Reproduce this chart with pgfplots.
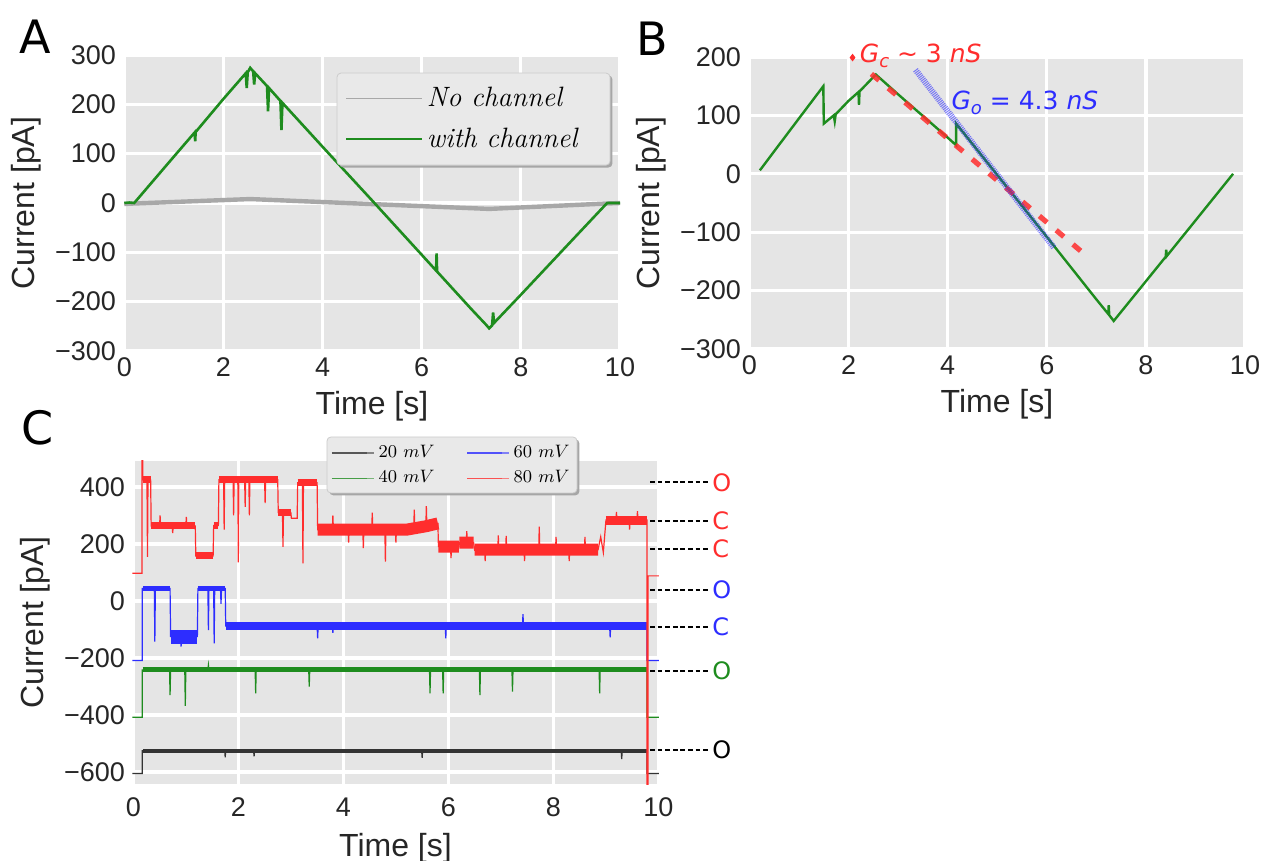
\documentclass[border=0pt]{standalone}
\usepackage{fontspec}
\usepackage{pgfplots}
\pgfplotsset{compat=1.18}
\newfontfamily\lib{Liberation Sans}
\newfontfamily\dejavu{DejaVu Sans}
\definecolor{bgc}{HTML}{E5E5E5}
\definecolor{legfill}{HTML}{E9E9E9}
\definecolor{trgreen}{RGB}{30,140,30}
\definecolor{trred}{RGB}{255,45,45}
\definecolor{trblue}{RGB}{45,45,255}
\definecolor{trgray}{HTML}{A8A8A8}
\definecolor{trblack}{HTML}{333333}

\pgfplotsset{
  panel/.style={
    scale only axis,
    axis background/.style={fill=bgc},
    axis line style={draw=none},
    major tick length=0pt,
    tick style={draw=none},
    grid=major,
    grid style={white, line width=1.6pt},
    tick label style={font=\lib\fontsize{13.5}{16}\selectfont, text=black!85},
    label style={font=\lib\fontsize{16}{19}\selectfont, text=black!85},
    xtick={0,2,4,6,8,10},
    xticklabels={0,2,4,6,8,10},
    xlabel={Time [s]},
    ylabel={Current [pA]},
    clip mode=individual,
  },
}
% legend box with its shadow, drawn from two corners in rel axis cs
\newcommand\legbox[4]{%
  \fill[black!35, rounded corners=2pt]
    ([xshift=1.2pt,yshift=-1.2pt]rel axis cs:#1,#2) rectangle ([xshift=1.2pt,yshift=-1.2pt]rel axis cs:#3,#4);
  \filldraw[fill=legfill, draw=black!20, rounded corners=2pt]
    (rel axis cs:#1,#2) rectangle (rel axis cs:#3,#4);
}

\begin{document}
\begin{tikzpicture}
\path[use as bounding box] (0pt,0pt) rectangle (632.5pt,-430.5pt);

\node[font=\dejavu\fontsize{23}{27}\selectfont] at (17.5pt,-18.5pt) {A};
\node[font=\dejavu\fontsize{23}{27}\selectfont] at (326pt,-19.5pt) {B};
\node[font=\dejavu\fontsize{23}{27}\selectfont] at (19pt,-214pt) {C};

% ---------------- A
\begin{axis}[panel, at={(61.5pt,-175.5pt)}, anchor=south west,
  width=249pt, height=148pt,
  xmin=-0.026, xmax=10.02, ymin=-300, ymax=300,
  ytick={-300,-200,-100,0,100,200,300},
  yticklabels={−300,−200,−100,0,100,200,300},
  legend cell align=left,
  legend image code/.code={\draw[#1] (0pt,0pt) -- (29.5pt,0pt); \path (0pt,0pt) -- (38pt,0pt);},
  legend image post style={line width=0.8pt},
  legend style={draw=none, fill=none, at={(0.4297,0.939)}, anchor=north west,
    font=\fontsize{14}{17}\selectfont\itshape,
    inner xsep=4pt, inner ysep=5pt, row sep=5pt},
]
\addplot[trgray, line width=2.2pt] coordinates {
  (0,-2) (0.2,-1) (2.54,8) (7.36,-12) (9.74,-1) (10,0)
};
\addlegendentry{No channel}
\addplot[trgreen, line width=1.3pt] coordinates {
  (0,0) (0.1,1) (0.2,0) (0.6,47) (1.0,94) (1.42,143) (1.43,125) (1.44,144)
  (2.0,211) (2.45,263) (2.47,233) (2.49,265) (2.54,274) (2.6,267) (2.62,240)
  (2.64,263) (2.88,237) (2.90,186) (2.92,233) (3.15,207) (3.17,148) (3.19,203)
  (3.5,169) (4.0,114) (5.0,5) (6.0,-105) (6.29,-137) (6.30,-102) (6.31,-139)
  (7.0,-215) (7.3,-247) (7.36,-254) (7.42,-248) (7.44,-222) (7.46,-243)
  (8.0,-186) (9.0,-79) (9.74,0) (10,0)
};
\addlegendentry{with channel}
\legbox{0.4297}{0.939}{0.978}{0.628}
\end{axis}

% ---------------- B
\begin{axis}[panel, at={(374pt,-174.5pt)}, anchor=south west,
  width=249pt, height=146pt,
  xmin=-0.03, xmax=10.02, ymin=-300, ymax=200,
  ytick={-300,-200,-100,0,100,200},
  yticklabels={−300,−200,−100,0,100,200},
]
\addplot[trgreen, line width=1.2pt] coordinates {
  (0.21,6) (0.6,50) (1.0,95) (1.49,150) (1.5,86) (1.7,100) (1.72,90) (1.74,102)
  (2.0,125) (2.2,140) (2.21,118) (2.22,141) (2.55,170) (3.0,136) (3.5,99)
  (4.0,62) (4.17,49) (4.17,86) (5.0,-2) (6.0,-108) (7.0,-215) (7.24,-240)
  (7.25,-225) (7.26,-242) (7.35,-252) (8.0,-184) (8.4,-142) (8.41,-130)
  (8.42,-141) (9.0,-80) (9.76,0)
};
\addplot[trred, opacity=0.85, line width=2.6pt, dash pattern=on 5pt off 6pt]
  coordinates {(2.46,171) (6.78,-139)};
\addplot[trblue, opacity=0.6, line width=3pt, dash pattern=on 0.5pt off 0.5pt]
  coordinates {(3.35,178) (6.15,-127)};
\addplot[only marks, mark=diamond*, mark size=1.6pt, trred] coordinates {(2.08,199)};
\node[anchor=base west, text=trred, font=\dejavu\fontsize{12.5}{15}\selectfont, inner sep=0pt]
  at (axis cs:2.22,190) {\itshape G\raisebox{-0.35ex}{\fontsize{9}{10}\selectfont c}\upshape{} ∼ 3 \itshape nS};
\node[anchor=base west, text=trblue, font=\dejavu\fontsize{12.5}{15}\selectfont, inner sep=0pt]
  at (axis cs:4.07,110) {\itshape G\raisebox{-0.35ex}{\fontsize{9}{10}\selectfont o}\upshape{} = 4.3 \itshape nS};
\end{axis}

% ---------------- C
\begin{axis}[panel, at={(66pt,-392pt)}, anchor=south west,
  width=263.5pt, height=161.5pt,
  xmin=-0.025, xmax=10.01, ymin=-642, ymax=491,
  ytick={-600,-400,-200,0,200,400},
  yticklabels={−600,−400,−200,0,200,400},
  xticklabel style={yshift=-3.5pt},
  xlabel style={yshift=-1pt},
  unbounded coords=jump,
  legend columns=2, transpose legend,
  legend cell align=left,
  legend image code/.code={\draw[#1] (0pt,0pt) -- (17.5pt,0pt); \path (0pt,0pt) -- (21pt,0pt);},
  legend image post style={line width=0.6pt, opacity=0.55},
  legend style={draw=none, fill=none, at={(0.370,1.0743)}, anchor=north west,
    font=\fontsize{9}{11}\selectfont, inner xsep=2pt, inner ysep=2pt, row sep=1pt,
    /tikz/every even column/.append style={column sep=14pt}},
]
% 20 mV
\addplot[trblack, line width=0.6pt] coordinates {
  (-0.02,-605) (0.17,-605) (0.17,-525) (1.74,-525) (1.75,-548) (1.76,-525)
  (2.29,-525) (2.3,-545) (2.31,-525) (5.49,-525) (5.5,-550) (5.51,-525)
  (9.29,-525) (9.3,-555) (9.31,-525) (9.78,-525) (9.78,-605) (10.02,-605)
};
\addlegendentry{$20\ mV$}
\addplot[trblack, line width=2pt, forget plot] coordinates {(0.18,-525) (9.78,-525)};
% 40 mV
\addplot[trgreen, line width=0.6pt] coordinates {
  (-0.02,-408) (0.17,-408) (0.17,-242) (0.69,-242) (0.7,-330) (0.71,-242)
  (0.98,-242) (0.99,-368) (1.0,-242) (1.42,-242) (1.43,-225) (1.44,-242)
  (2.32,-242) (2.33,-324) (2.34,-242) (3.34,-242) (3.35,-300) (3.36,-242)
  (5.64,-242) (5.65,-324) (5.66,-242) (5.89,-242) (5.9,-324) (5.91,-242)
  (6.59,-242) (6.6,-330) (6.61,-242) (7.21,-242) (7.22,-318) (7.23,-242)
  (8.87,-242) (8.88,-324) (8.89,-242) (9.78,-242) (9.78,-408) (10.02,-408)
};
\addlegendentry{$40\ mV$}
\addplot[trgreen, line width=2.5pt, forget plot] coordinates {(0.18,-242) (9.78,-242)};
% 60 mV
\addplot[trblue, line width=0.6pt] coordinates {
  (-0.02,-209) (0.17,-209) (0.17,44) (0.4,44) (0.41,-143) (0.42,44) (0.7,44)
  (0.71,-125) (0.9,-125) (0.91,-160) (0.92,-125) (1.22,-125) (1.23,44)
  (1.42,44) (1.43,-102) (1.44,44) (1.53,44) (1.54,-149) (1.55,44) (1.66,44)
  (1.67,-10) (1.68,44) (1.75,44) (1.76,-88) (3.5,-88) (3.51,-131) (3.52,-88)
  (3.79,-88) (3.8,-112) (3.81,-88)
  (5.94,-88) (5.95,-131) (5.96,-88) (7.41,-88) (7.42,-46) (7.43,-88)
  (9.07,-88) (9.08,-128) (9.09,-88) (9.78,-88) (9.78,-209) (10.02,-209)
};
\addlegendentry{$60\ mV$}
\addplot[trblue, line width=2.5pt, forget plot] coordinates {
  (0.18,44) (0.7,44) (0.7,nan) (1.23,44) (1.75,44)
};
\addplot[trblue, line width=7pt, forget plot] coordinates {(0.71,-125) (1.22,-125)};
\addplot[trblue, line width=4pt, forget plot] coordinates {(1.76,-88) (9.78,-88)};
% 80 mV
\addplot[trred, line width=0.6pt] coordinates {
  (-0.02,97) (0.165,97) (0.165,700) (0.18,700) (0.18,425) (0.26,425)
  (0.27,155) (0.28,425) (0.33,425) (0.34,263) (0.5,263) (0.51,300) (0.52,263)
  (0.74,263) (0.75,238) (0.76,263)
  (1.0,263) (1.01,295) (1.02,263) (1.18,263) (1.19,158) (1.52,158) (1.53,265)
  (1.62,265) (1.63,425) (1.72,425) (1.73,250) (1.74,425) (1.9,425) (1.91,300)
  (1.92,425) (1.99,425) (2.0,135) (2.01,425) (2.12,425) (2.13,330) (2.14,425)
  (2.2,425) (2.21,300) (2.22,425) (2.5,425) (2.51,343) (2.52,425) (2.75,425)
  (2.76,310) (2.84,310) (2.85,190) (2.86,310) (3.0,310) (3.01,290) (3.12,290)
  (3.13,415) (3.22,415) (3.23,132) (3.24,415) (3.5,415) (3.51,250)
  (3.79,250) (3.8,300) (3.81,250) (4.09,250) (4.1,205) (4.11,250)
  (4.37,250) (4.38,185) (4.39,250) (4.54,250) (4.55,310) (4.56,250)
  (4.79,250) (4.8,138) (4.81,250) (4.99,250) (5.0,205) (5.01,250)
  (5.2,250) (5.34,255) (5.35,320) (5.36,255) (5.57,262)
  (5.58,333) (5.59,262) (5.8,272) (5.81,191) (6.04,191) (6.05,150) (6.06,191)
  (6.2,191) (6.21,205) (6.34,205) (6.35,245) (6.36,205) (6.48,205)
  (6.5,178) (6.69,178) (6.7,140) (6.71,178) (6.94,178) (6.95,230) (6.96,178)
  (7.09,178) (7.1,228) (7.11,178) (7.44,179) (7.45,140) (7.46,179)
  (7.72,180) (7.73,261) (7.74,180) (8.04,180) (8.05,225) (8.06,180)
  (8.29,180) (8.3,140) (8.31,180) (8.59,180) (8.6,225) (8.61,180)
  (8.85,180) (8.9,225) (8.95,170)
  (9.0,284) (9.19,284) (9.2,312) (9.21,284) (9.44,284) (9.45,250) (9.46,284)
  (9.59,284) (9.6,315) (9.61,284)
  (9.78,284) (9.78,-700) (9.8,-700) (9.8,88) (10.02,88)
};
\addlegendentry{$80\ mV$}
\addplot[trred, line width=3.5pt, forget plot] coordinates {
  (0.18,425) (0.33,425) (0.33,nan) (0.34,263) (1.18,263) (1.18,nan)
  (1.19,158) (1.52,158) (1.52,nan) (1.53,265) (1.62,265) (1.62,nan)
  (1.63,425) (2.75,425) (2.75,nan) (2.76,310) (3.0,310) (3.0,nan)
  (3.13,415) (3.5,415)
};
\addplot[trred, line width=6pt, forget plot] coordinates {
  (3.51,250) (5.2,250) (5.57,262) (5.8,272) (5.8,nan) (5.81,191) (6.2,191)
  (6.2,nan) (6.21,205) (6.48,205) (6.48,nan) (6.5,180) (8.85,180)
};
\addplot[trred, line width=4.5pt, forget plot] coordinates {(9.0,284) (9.78,284)};

% state marks at the right
\foreach \yv/\lab/\col in {416/O/trred, 282/C/trred, 184/C/trred, 40/O/trblue,
    -90/C/trblue, -244/O/trgreen, -522/O/black} {
  \edef\tmp{\noexpand\draw[black, line width=1pt, dash pattern=on 2.4pt off 1.4pt]
    (axis cs:9.84,\yv) -- (axis cs:10.97,\yv)
    node[right, inner sep=1pt, text=\col, font=\noexpand\dejavu\noexpand\fontsize{12}{14}\noexpand\selectfont] {\lab};}
  \tmp
}
\legbox{0.370}{1.0743}{0.8444}{0.901}
\end{axis}
\end{tikzpicture}
\end{document}
